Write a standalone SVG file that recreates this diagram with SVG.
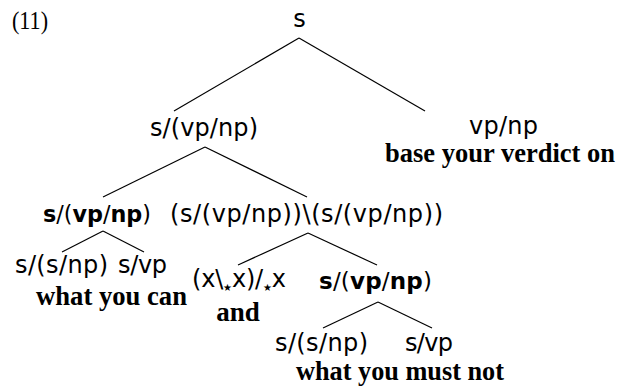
<svg xmlns="http://www.w3.org/2000/svg" width="618" height="387" viewBox="0 0 618 387">
<style>
.cat{font-family:"DejaVu Sans",sans-serif;font-size:24px;fill:#000}
.bn{font-size:23px}
.b{font-weight:bold}
.w{font-family:"Liberation Serif",serif;font-size:27px;font-weight:bold;fill:#000}
.num{font-family:"Liberation Serif",serif;font-size:25px;fill:#000}
.st{font-size:10px}
#connectors line{stroke:#000;stroke-width:1.2}
</style>
<rect width="618" height="387" fill="#fff"/>
<text class="num" x="12" y="29" textLength="36" lengthAdjust="spacingAndGlyphs">(11)</text>
<g id="connectors">
<line x1="299" y1="38" x2="174" y2="111"/>
<line x1="299" y1="38" x2="425" y2="111"/>
<line x1="205" y1="147" x2="103" y2="197"/>
<line x1="205" y1="147" x2="307" y2="197"/>
<line x1="103" y1="231" x2="62" y2="252"/>
<line x1="103" y1="231" x2="144" y2="252"/>
<line x1="308" y1="233" x2="238" y2="265"/>
<line x1="308" y1="233" x2="377" y2="265"/>
<line x1="378" y1="302" x2="323" y2="328"/>
<line x1="378" y1="302" x2="432" y2="328"/>
</g>
<g id="n-root"><text class="cat" x="299.5" y="27" text-anchor="middle">s</text></g>
<g id="n-s-vpnp"><text class="cat" x="150" y="136" textLength="108" lengthAdjust="spacing">s/(vp/np)</text></g>
<g id="n-vpnp"><text class="cat" x="469" y="134" textLength="69" lengthAdjust="spacing">vp/np</text>
<text class="w" x="385" y="162" textLength="230" lengthAdjust="spacingAndGlyphs">base your verdict on</text></g>
<g id="n-left-bold"><text class="cat bn" x="43" y="222" textLength="108" lengthAdjust="spacingAndGlyphs"><tspan class="b">s</tspan>/(<tspan class="b">vp</tspan>/<tspan class="b">np</tspan>)</text></g>
<g id="n-coord"><text class="cat" x="170" y="222" textLength="273" lengthAdjust="spacing">(s/(vp/np))\(s/(vp/np))</text></g>
<g id="n-l-ssnp"><text class="cat" x="15" y="273" textLength="93" lengthAdjust="spacing">s/(s/np)</text></g>
<g id="n-l-svp"><text class="cat" x="118" y="273" textLength="49" lengthAdjust="spacing">s/vp</text></g>
<text class="w" x="36" y="305" textLength="151" lengthAdjust="spacingAndGlyphs">what  you can</text>
<g id="n-and"><text class="cat" x="192" y="287" textLength="94" lengthAdjust="spacing">(x\<tspan class="st" dy="4">★</tspan><tspan dy="-4">x)/</tspan><tspan class="st" dy="4">★</tspan><tspan dy="-4">x</tspan></text>
<text class="w" x="238" y="321" text-anchor="middle">and</text></g>
<g id="n-right-bold"><text class="cat bn" x="319" y="289" textLength="113" lengthAdjust="spacing"><tspan class="b">s</tspan>/(<tspan class="b">vp</tspan>/<tspan class="b">np</tspan>)</text></g>
<g id="n-r-ssnp"><text class="cat" x="275" y="351" textLength="93" lengthAdjust="spacing">s/(s/np)</text></g>
<g id="n-r-svp"><text class="cat" x="405" y="351" textLength="48" lengthAdjust="spacing">s/vp</text></g>
<text class="w" x="296" y="380" textLength="208" lengthAdjust="spacingAndGlyphs">what you must not</text>
</svg>
